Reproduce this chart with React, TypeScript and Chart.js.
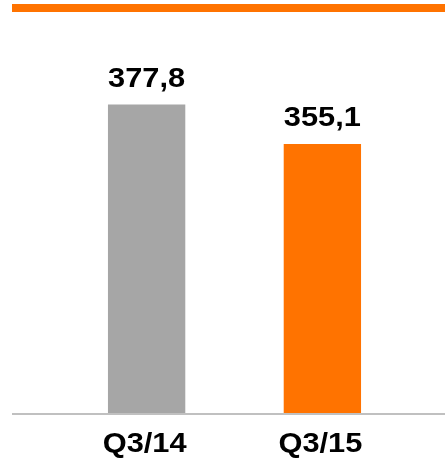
import React, { useEffect, useRef } from "react";
import { Chart, registerables } from "chart.js";

Chart.register(...registerables);

const categories = ["Q3/14", "Q3/15"];
const values = [377.8, 355.1];
const barColors = ["#A6A6A6", "#FF7300"];
const ORANGE = "#FF7300";
const BASELINE = "#C0C0C0";
const FONT = "bold 28px 'Liberation Sans', Arial, sans-serif";
const STRETCH = 1.1;

function drawText(ctx: CanvasRenderingContext2D, text: string, x: number, y: number) {
  ctx.save();
  ctx.translate(x, y);
  ctx.scale(STRETCH, 1);
  ctx.fillText(text, 0, 0);
  ctx.restore();
}

const decorPlugin = {
  id: "decor",
  afterDatasetsDraw(chart: any) {
    const ctx: CanvasRenderingContext2D = chart.ctx;
    const area = chart.chartArea;
    ctx.save();
    ctx.fillStyle = ORANGE;
    ctx.fillRect(12, 4, chart.width - 12, 8);
    ctx.fillStyle = BASELINE;
    ctx.fillRect(12, area.bottom, chart.width - 12, 2);
    ctx.fillStyle = "#000000";
    ctx.font = FONT;
    ctx.textAlign = "center";
    ctx.textBaseline = "alphabetic";
    const meta = chart.getDatasetMeta(0);
    meta.data.forEach((bar: any, i: number) => {
      const label = values[i].toFixed(1).replace(".", ",");
      drawText(ctx, label, bar.x, bar.y - 18);
      drawText(ctx, categories[i], bar.x - 2, area.bottom + 39);
    });
    ctx.restore();
  },
};

export default function App() {
  const ref = useRef<HTMLCanvasElement>(null);
  useEffect(() => {
    if (!ref.current) return;
    const chart = new Chart(ref.current, {
      type: "bar",
      data: {
        labels: categories,
        datasets: [
          {
            data: values,
            backgroundColor: barColors,
            borderWidth: 0,
            barPercentage: 0.44,
            categoryPercentage: 1,
          },
        ],
      },
      options: {
        responsive: true,
        maintainAspectRatio: false,
        animation: false,
        layout: { padding: { top: 66, bottom: 47, left: 58.75, right: 34.75 } },
        plugins: { legend: { display: false }, tooltip: { enabled: false } },
        scales: {
          x: { display: false },
          y: { display: false, min: 200, max: 400 },
        },
      },
      plugins: [decorPlugin],
    });
    return () => chart.destroy();
  }, []);
  return (
    <div style={{ position: "absolute", left: 0, top: 0, width: 445, height: 460, background: "#fff" }}>
      <canvas ref={ref} />
    </div>
  );
}
